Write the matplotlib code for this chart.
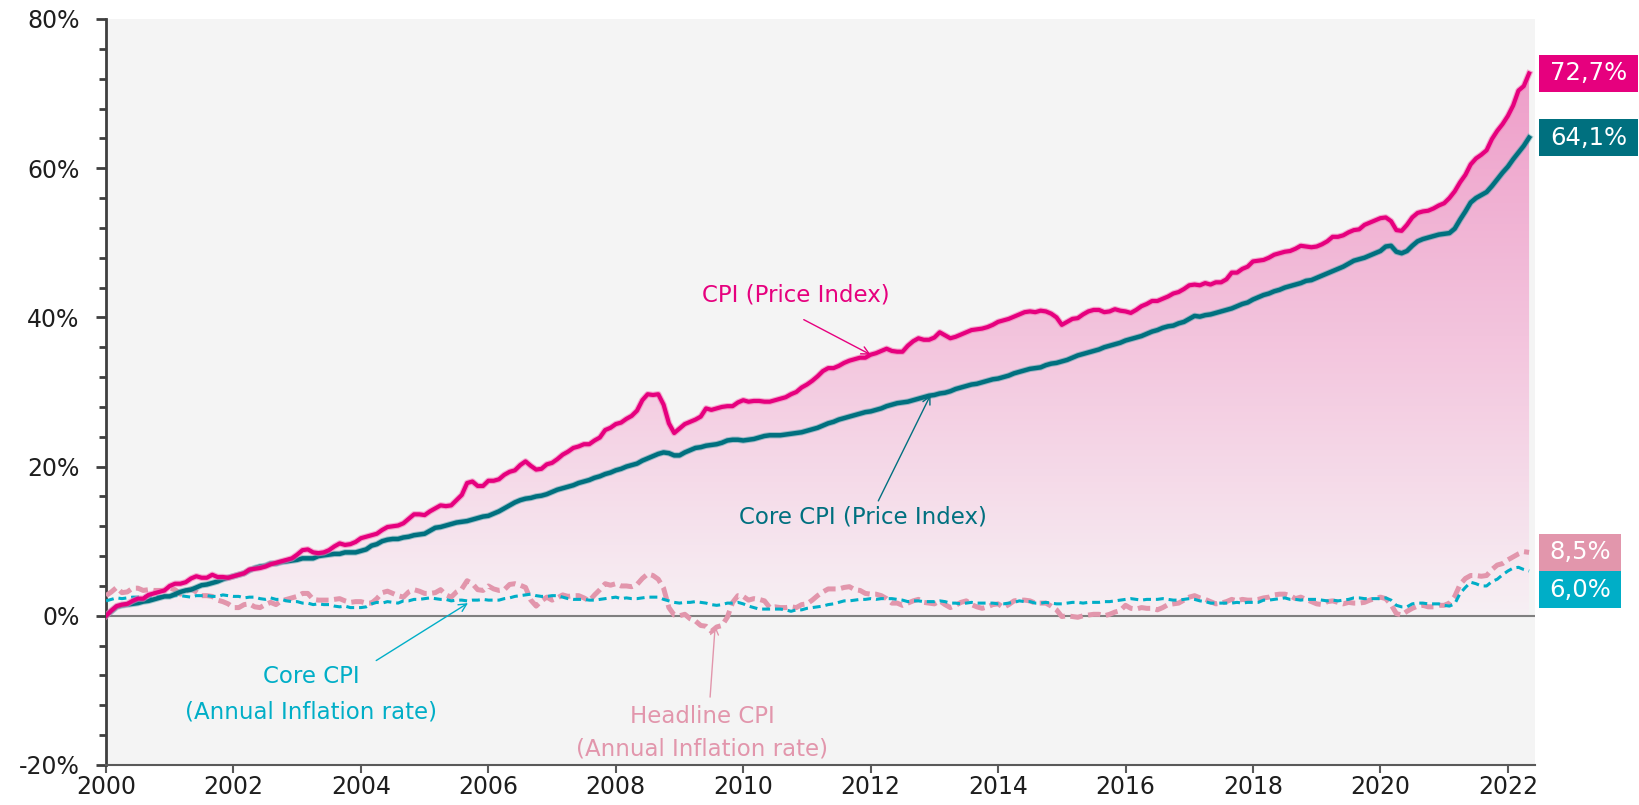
import numpy as np
import matplotlib
matplotlib.use("Agg")
import matplotlib.pyplot as plt
from matplotlib.colors import LinearSegmentedColormap
from matplotlib.patches import Rectangle
import matplotlib.transforms as mtransforms

plt.rcParams['font.family'] = ['DejaVu Sans']

# cumulative change since Jan 2000, %, monthly Jan 2000 - May 2022
cpi_index = [
    0.0, 0.7, 1.3, 1.5, 1.6, 2.0, 2.3, 2.3, 2.8, 3.0, 3.2, 3.4,
    4.0, 4.3, 4.3, 4.5, 5.0, 5.3, 5.1, 5.1, 5.5, 5.2, 5.2, 5.1,
    5.3, 5.5, 5.7, 6.2, 6.3, 6.4, 6.6, 6.9, 7.1, 7.3, 7.5, 7.7,
    8.2, 8.8, 8.9, 8.5, 8.4, 8.5, 8.8, 9.3, 9.7, 9.5, 9.6, 9.9,
    10.4, 10.6, 10.8, 11.0, 11.5, 11.9, 12.0, 12.1, 12.4, 13.0, 13.6, 13.6,
    13.5, 14.0, 14.4, 14.8, 14.7, 14.8, 15.5, 16.2, 17.8, 18.0, 17.4, 17.4,
    18.1, 18.1, 18.3, 18.9, 19.3, 19.5, 20.2, 20.7, 20.1, 19.6, 19.7, 20.3,
    20.5, 21.0, 21.6, 22.0, 22.5, 22.7, 23.0, 23.0, 23.5, 23.9, 24.9, 25.2,
    25.7, 25.9, 26.4, 26.8, 27.5, 28.9, 29.7, 29.6, 29.7, 28.3, 25.8, 24.5,
    25.1, 25.7, 26.0, 26.3, 26.7, 27.8, 27.6, 27.8, 28.0, 28.1, 28.1, 28.6,
    28.9, 28.7, 28.8, 28.8, 28.7, 28.7, 28.9, 29.1, 29.3, 29.7, 30.0, 30.6,
    31.0, 31.5, 32.1, 32.8, 33.2, 33.2, 33.5, 33.9, 34.2, 34.4, 34.6, 34.6,
    35.0, 35.2, 35.5, 35.8, 35.5, 35.4, 35.4, 36.2, 36.8, 37.2, 37.0, 37.0,
    37.3, 38.0, 37.6, 37.2, 37.4, 37.7, 38.0, 38.3, 38.4, 38.5, 38.7, 39.0,
    39.4, 39.6, 39.8, 40.1, 40.4, 40.7, 40.8, 40.7, 40.9, 40.8, 40.5, 40.0,
    39.0, 39.4, 39.8, 39.9, 40.4, 40.8, 41.0, 41.0, 40.7, 40.8, 41.1, 40.9,
    40.8, 40.6, 41.0, 41.5, 41.8, 42.2, 42.2, 42.5, 42.8, 43.2, 43.4, 43.8,
    44.3, 44.4, 44.3, 44.6, 44.4, 44.7, 44.7, 45.1, 46.0, 46.0, 46.5, 46.8,
    47.5, 47.6, 47.7, 48.0, 48.4, 48.6, 48.8, 48.9, 49.2, 49.6, 49.5, 49.4,
    49.5, 49.8, 50.2, 50.8, 50.8, 51.0, 51.4, 51.7, 51.8, 52.4, 52.7, 53.0,
    53.3, 53.4, 52.9, 51.7, 51.6, 52.4, 53.4, 54.0, 54.2, 54.3, 54.6, 55.0,
    55.3, 56.0, 56.9, 58.1, 59.1, 60.5, 61.3, 61.8, 62.4, 63.9, 65.0, 65.9,
    67.0, 68.4, 70.4, 71.0, 72.7,
]

core_index = [
    0.0, 0.6, 1.2, 1.4, 1.5, 1.6, 1.7, 1.9, 2.0, 2.2, 2.4, 2.6,
    2.6, 2.9, 3.2, 3.4, 3.5, 3.8, 4.1, 4.2, 4.4, 4.6, 4.9, 5.1,
    5.3, 5.5, 5.7, 6.1, 6.4, 6.6, 6.7, 7.0, 7.0, 7.2, 7.3, 7.4,
    7.5, 7.7, 7.7, 7.7, 8.0, 8.1, 8.2, 8.3, 8.3, 8.5, 8.5, 8.5,
    8.7, 8.9, 9.4, 9.6, 10.0, 10.2, 10.3, 10.3, 10.5, 10.6, 10.8, 10.9,
    11.0, 11.4, 11.8, 11.9, 12.1, 12.3, 12.5, 12.6, 12.7, 12.9, 13.1, 13.3,
    13.4, 13.7, 14.0, 14.4, 14.8, 15.2, 15.5, 15.7, 15.8, 16.0, 16.1, 16.3,
    16.6, 16.9, 17.1, 17.3, 17.5, 17.8, 18.0, 18.2, 18.5, 18.7, 19.0, 19.2,
    19.5, 19.7, 20.0, 20.2, 20.4, 20.8, 21.1, 21.4, 21.7, 21.9, 21.8, 21.5,
    21.5, 21.9, 22.2, 22.5, 22.6, 22.8, 22.9, 23.0, 23.2, 23.5, 23.6, 23.6,
    23.5, 23.6, 23.7, 23.9, 24.1, 24.2, 24.2, 24.2, 24.3, 24.4, 24.5, 24.6,
    24.8, 25.0, 25.2, 25.5, 25.8, 26.0, 26.3, 26.5, 26.7, 26.9, 27.1, 27.3,
    27.4, 27.6, 27.8, 28.1, 28.3, 28.5, 28.6, 28.7, 28.9, 29.1, 29.3, 29.5,
    29.6, 29.8, 29.9, 30.1, 30.4, 30.6, 30.8, 31.0, 31.1, 31.3, 31.5, 31.7,
    31.8, 32.0, 32.2, 32.5, 32.7, 32.9, 33.1, 33.2, 33.3, 33.6, 33.8, 33.9,
    34.1, 34.3, 34.6, 34.9, 35.1, 35.3, 35.5, 35.7, 36.0, 36.2, 36.4, 36.6,
    36.9, 37.1, 37.3, 37.5, 37.8, 38.1, 38.3, 38.6, 38.8, 38.9, 39.2, 39.4,
    39.8, 40.2, 40.1, 40.3, 40.4, 40.6, 40.8, 41.0, 41.2, 41.5, 41.8, 42.0,
    42.4, 42.7, 43.0, 43.2, 43.5, 43.7, 44.0, 44.2, 44.4, 44.6, 44.9, 45.0,
    45.3, 45.6, 45.9, 46.2, 46.5, 46.8, 47.2, 47.6, 47.8, 48.0, 48.3, 48.6,
    48.9, 49.5, 49.6, 48.8, 48.6, 48.9, 49.6, 50.2, 50.5, 50.7, 50.9, 51.1,
    51.2, 51.3, 51.9, 53.1, 54.2, 55.4, 56.0, 56.4, 56.8, 57.6, 58.5, 59.4,
    60.2, 61.2, 62.1, 63.0, 64.1,
]

# annual inflation rate, %, monthly
headline_rate = [
    2.7, 3.2, 3.8, 3.1, 3.2, 3.7, 3.7, 3.4, 3.5, 3.4, 3.4, 3.4,
    3.7, 3.5, 2.9, 3.3, 3.6, 3.2, 2.7, 2.7, 2.6, 2.1, 1.9, 1.6,
    1.1, 1.1, 1.5, 1.6, 1.2, 1.1, 1.5, 1.8, 1.5, 2.0, 2.2, 2.4,
    2.6, 3.0, 3.0, 2.2, 2.1, 2.1, 2.1, 2.2, 2.3, 2.0, 1.8, 1.9,
    1.9, 1.7, 1.7, 2.3, 3.1, 3.3, 3.0, 2.7, 2.5, 3.2, 3.5, 3.3,
    3.0, 3.0, 3.1, 3.5, 2.8, 2.5, 3.2, 3.6, 4.7, 4.3, 3.5, 3.4,
    4.0, 3.6, 3.4, 3.5, 4.2, 4.3, 4.1, 3.8, 2.1, 1.3, 2.0, 2.5,
    2.1, 2.4, 2.8, 2.6, 2.7, 2.7, 2.4, 2.0, 2.8, 3.5, 4.3, 4.1,
    4.3, 4.0, 4.0, 3.9, 4.2, 5.0, 5.6, 5.4, 4.9, 3.7, 1.1, 0.1,
    0.0, 0.2, -0.4, -0.7, -1.3, -1.4, -2.1, -1.5, -1.3, -0.2, 1.8, 2.7,
    2.6, 2.1, 2.3, 2.2, 2.0, 1.1, 1.2, 1.1, 1.1, 1.2, 1.1, 1.5,
    1.6, 2.1, 2.7, 3.2, 3.6, 3.6, 3.6, 3.8, 3.9, 3.5, 3.4, 3.0,
    2.9, 2.9, 2.7, 2.3, 1.7, 1.7, 1.4, 1.7, 2.0, 2.2, 1.8, 1.7,
    1.6, 2.0, 1.5, 1.1, 1.4, 1.8, 2.0, 1.5, 1.2, 1.0, 1.2, 1.5,
    1.6, 1.1, 1.5, 2.0, 2.1, 2.1, 2.0, 1.7, 1.7, 1.7, 1.3, 0.8,
    -0.1, 0.0, -0.1, -0.2, 0.0, 0.1, 0.2, 0.2, 0.0, 0.2, 0.5, 0.7,
    1.4, 1.0, 0.9, 1.1, 1.0, 1.0, 0.8, 1.1, 1.5, 1.6, 1.7, 2.1,
    2.5, 2.7, 2.4, 2.2, 1.9, 1.6, 1.7, 1.9, 2.2, 2.0, 2.2, 2.1,
    2.1, 2.2, 2.4, 2.5, 2.8, 2.9, 2.9, 2.7, 2.3, 2.5, 2.2, 1.9,
    1.6, 1.5, 1.9, 2.0, 1.8, 1.6, 1.8, 1.7, 1.7, 1.8, 2.1, 2.3,
    2.5, 2.3, 1.5, 0.3, 0.1, 0.6, 1.0, 1.3, 1.4, 1.2, 1.2, 1.4,
    1.4, 1.7, 2.6, 4.2, 5.0, 5.4, 5.4, 5.3, 5.4, 6.2, 6.8, 7.0,
    7.5, 7.9, 8.3, 8.6, 8.5,
]

core_rate = [
    2.0, 2.2, 2.4, 2.3, 2.4, 2.5, 2.5, 2.6, 2.6, 2.5, 2.6, 2.6,
    2.6, 2.7, 2.7, 2.6, 2.5, 2.7, 2.7, 2.7, 2.6, 2.6, 2.8, 2.7,
    2.6, 2.6, 2.4, 2.5, 2.5, 2.3, 2.2, 2.4, 2.2, 2.2, 2.0, 1.9,
    1.9, 1.7, 1.7, 1.5, 1.6, 1.5, 1.5, 1.3, 1.2, 1.3, 1.1, 1.1,
    1.1, 1.2, 1.6, 1.8, 1.7, 1.9, 1.8, 1.7, 2.0, 2.0, 2.2, 2.2,
    2.3, 2.4, 2.3, 2.2, 2.2, 2.0, 2.1, 2.1, 2.0, 2.1, 2.1, 2.2,
    2.1, 2.1, 2.1, 2.3, 2.4, 2.6, 2.7, 2.8, 2.9, 2.7, 2.6, 2.6,
    2.7, 2.7, 2.5, 2.3, 2.2, 2.2, 2.2, 2.1, 2.1, 2.2, 2.3, 2.4,
    2.5, 2.3, 2.4, 2.3, 2.3, 2.4, 2.5, 2.5, 2.5, 2.2, 2.0, 1.8,
    1.7, 1.8, 1.8, 1.9, 1.8, 1.7, 1.5, 1.4, 1.5, 1.7, 1.7, 1.8,
    1.6, 1.3, 1.1, 0.9, 0.9, 0.9, 0.9, 0.9, 0.8, 0.6, 0.8, 0.8,
    1.0, 1.1, 1.2, 1.3, 1.5, 1.6, 1.8, 2.0, 2.0, 2.1, 2.2, 2.2,
    2.3, 2.2, 2.3, 2.3, 2.3, 2.2, 2.1, 1.9, 2.0, 2.0, 1.9, 1.9,
    1.9, 2.0, 1.9, 1.7, 1.7, 1.6, 1.7, 1.8, 1.7, 1.7, 1.7, 1.7,
    1.6, 1.6, 1.7, 1.8, 2.0, 1.9, 1.9, 1.7, 1.7, 1.8, 1.7, 1.6,
    1.6, 1.7, 1.8, 1.8, 1.7, 1.8, 1.8, 1.8, 1.9, 1.9, 2.0, 2.1,
    2.2, 2.3, 2.2, 2.1, 2.2, 2.2, 2.2, 2.3, 2.2, 2.1, 2.1, 2.2,
    2.3, 2.2, 2.0, 1.9, 1.7, 1.7, 1.7, 1.7, 1.7, 1.8, 1.7, 1.8,
    1.8, 1.8, 2.1, 2.1, 2.2, 2.3, 2.4, 2.2, 2.2, 2.1, 2.2, 2.2,
    2.2, 2.1, 2.0, 2.1, 2.0, 2.1, 2.2, 2.4, 2.4, 2.3, 2.3, 2.3,
    2.3, 2.4, 2.1, 1.4, 1.2, 1.2, 1.6, 1.7, 1.7, 1.6, 1.6, 1.6,
    1.4, 1.3, 1.6, 3.0, 3.8, 4.5, 4.3, 4.0, 4.0, 4.6, 4.9, 5.5,
    6.0, 6.4, 6.5, 6.2, 6.0,
]

year_ticks = [2000, 2002, 2004, 2006, 2008, 2010, 2012, 2014, 2016, 2018, 2020, 2022]
pct_ticks = [-20, 0, 20, 40, 60, 80]

c_cpi = '#E6007E'
c_core = '#00707F'
c_head_rate = '#E296AC'
c_core_rate = '#00AEC7'

x = 2000 + np.arange(len(cpi_index)) / 12.0
cpi = np.array(cpi_index)
core = np.array(core_index)

fig = plt.figure(figsize=(16.39, 8.05), dpi=100)
ax = fig.add_axes([0.0647, 0.0497, 0.872, 0.9267])
ax.set_facecolor('#F4F4F4')

# gradient fill under the CPI line
grad = LinearSegmentedColormap.from_list('g', ['#F7F0F4', '#F3C4DD', '#EE9CC8'])
fill = ax.fill_between(x, 0, cpi, facecolor='none', edgecolor='none')
img = ax.imshow(np.linspace(0, 1, 256).reshape(-1, 1), cmap=grad, aspect='auto',
                origin='lower', extent=[2000, x[-1], 0, 75], zorder=1)
img.set_clip_path(fill.get_paths()[0], transform=ax.transData)
ax.set_xlim(2000, 2022.43)
ax.set_ylim(-20, 80)

ax.axhline(0, color='#7F7F7F', lw=1.5, zorder=2)

ax.plot(x, headline_rate, color=c_head_rate, lw=3.6, dashes=(2.5, 1.1),
        solid_joinstyle='round', zorder=3)
ax.plot(x, core_rate, color=c_core_rate, lw=2.2, dashes=(2.6, 1.6), zorder=4)
ax.plot(x, core, color='#4FA0A8', lw=4.6, alpha=0.5, zorder=5)
ax.plot(x, core, color=c_core, lw=3.2, zorder=5, solid_joinstyle='round')
ax.plot(x, cpi, color='#F27DB8', lw=4.6, alpha=0.6, zorder=6)
ax.plot(x, cpi, color=c_cpi, lw=3.0, zorder=6, solid_joinstyle='round')

# axes styling
for s in ['top', 'right']:
    ax.spines[s].set_visible(False)
ax.spines['left'].set_color('#3F3F3F')
ax.spines['left'].set_linewidth(2)
ax.spines['bottom'].set_color('#595959')
ax.spines['bottom'].set_linewidth(1.5)
ax.set_yticks(pct_ticks)
ax.set_yticklabels([f'{t}%' for t in pct_ticks])
ax.set_yticks(np.arange(-20, 81, 4), minor=True)
ax.set_xticks(year_ticks)
ax.set_xticklabels([str(t) for t in year_ticks])
ax.tick_params(axis='y', which='major', length=7, width=2, color='#3F3F3F',
               labelsize=17, labelcolor='#1E1E1E', pad=12)
ax.tick_params(axis='y', which='minor', length=5, width=2, color='#3F3F3F')
ax.tick_params(axis='x', which='major', length=6, width=1.5, color='#595959',
               labelsize=17, labelcolor='#1E1E1E', pad=1)

# annotations
fs = 16.5
arr = dict(arrowstyle='->', lw=1.0, shrinkA=0, shrinkB=0, mutation_scale=14)
ax.annotate('', xy=(2012.0, 35.0), xytext=(2010.95, 39.7),
            arrowprops=dict(arr, color=c_cpi), zorder=8)
ax.text(2010.83, 43.0, 'CPI (Price Index)', color=c_cpi, fontsize=fs,
        ha='center', va='center', zorder=8)
ax.annotate('', xy=(2012.94, 29.6), xytext=(2012.12, 15.4),
            arrowprops=dict(arr, color=c_core), zorder=8)
ax.text(2011.88, 13.2, 'Core CPI (Price Index)', color=c_core, fontsize=fs,
        ha='center', va='center', zorder=8)
ax.annotate('', xy=(2005.68, 1.7), xytext=(2004.24, -6.0),
            arrowprops=dict(arr, color=c_core_rate), zorder=8)
ax.text(2003.22, -8.2, 'Core CPI', color=c_core_rate, fontsize=fs,
        ha='center', va='center', zorder=8)
ax.text(2003.22, -12.9, '(Annual Inflation rate)', color=c_core_rate, fontsize=fs,
        ha='center', va='center', zorder=8)
ax.annotate('', xy=(2009.56, -1.3), xytext=(2009.48, -10.9),
            arrowprops=dict(arr, color=c_head_rate), zorder=8)
ax.text(2009.36, -13.5, 'Headline CPI', color=c_head_rate, fontsize=fs,
        ha='center', va='center', zorder=8)
ax.text(2009.36, -17.9, '(Annual Inflation rate)', color=c_head_rate, fontsize=fs,
        ha='center', va='center', zorder=8)

# end-value boxes on the right
trans = mtransforms.blended_transform_factory(ax.transAxes, ax.transData)
box_h = 5.0
labels = [
    (cpi_index[-1], cpi_index[-1], c_cpi, 0.0695),
    (core_index[-1], core_index[-1], c_core, 0.0695),
    (headline_rate[-1], headline_rate[-1], c_head_rate, 0.0575),
    (core_rate[-1], headline_rate[-1] - box_h, c_core_rate, 0.0575),
]
for val, ypos, col, w in labels:
    ax.add_patch(Rectangle((1.0025, ypos - box_h / 2), w, box_h, transform=trans,
                           facecolor=col, edgecolor='none', clip_on=False, zorder=9))
    ax.text(1.0025 + w / 2, ypos, f'{val:.1f}%'.replace('.', ','), transform=trans,
            color='white', fontsize=17.5, ha='center', va='center', zorder=10)

fig.savefig('out.png', dpi=100)
